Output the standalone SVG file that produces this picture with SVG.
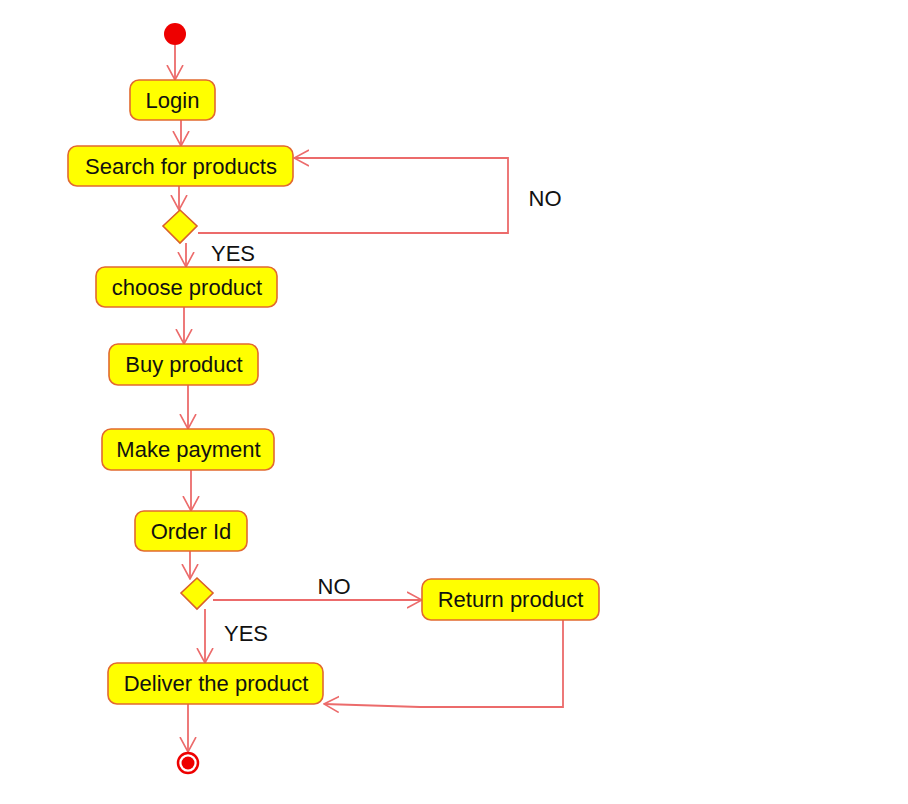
<svg xmlns="http://www.w3.org/2000/svg" width="908" height="804" viewBox="0 0 908 804">
<defs>
<style>
.node rect{fill:#ffff00;stroke:#e2692f;stroke-width:1.6}
.node polygon{fill:#ffff00;stroke:#d9602a;stroke-width:1.6}
text{font-family:"Liberation Sans",Arial,sans-serif;font-size:22px;fill:#111111}
.lbl{text-anchor:middle}
.edge{fill:none;stroke:#ec6b6b;stroke-width:1.8}
</style>
<marker id="arr" viewBox="0 0 16 18" refX="15" refY="9" markerWidth="16" markerHeight="18" markerUnits="userSpaceOnUse" orient="auto">
<path d="M0,1 L15,9 L0,17" fill="none" stroke="#ec6b6b" stroke-width="1.6"/>
</marker>
</defs>
<rect width="908" height="804" fill="#ffffff"/>
<g id="connectors">
<line class="edge" x1="175" y1="45" x2="175" y2="80" marker-end="url(#arr)"/>
<line class="edge" x1="181" y1="120" x2="181" y2="146" marker-end="url(#arr)"/>
<line class="edge" x1="179" y1="186" x2="179" y2="210" marker-end="url(#arr)"/>
<polyline class="edge" points="198,233 508,233 508,158 294,158" marker-end="url(#arr)"/>
<line class="edge" x1="186" y1="243" x2="186" y2="267" marker-end="url(#arr)"/>
<line class="edge" x1="184" y1="307" x2="184" y2="344" marker-end="url(#arr)"/>
<line class="edge" x1="188" y1="385" x2="188" y2="429" marker-end="url(#arr)"/>
<line class="edge" x1="191" y1="470" x2="191" y2="511" marker-end="url(#arr)"/>
<line class="edge" x1="190" y1="551" x2="190" y2="579" marker-end="url(#arr)"/>
<line class="edge" x1="213" y1="600" x2="422" y2="600" marker-end="url(#arr)"/>
<line class="edge" x1="205" y1="609" x2="205" y2="663" marker-end="url(#arr)"/>
<polyline class="edge" points="563,620 563,707 420,707 324,704" marker-end="url(#arr)"/>
<line class="edge" x1="188" y1="704" x2="188" y2="752" marker-end="url(#arr)"/>
<text x="545" y="206" class="lbl">NO</text>
<text x="233" y="261" class="lbl">YES</text>
<text x="334" y="594" class="lbl">NO</text>
<text x="246" y="641" class="lbl">YES</text>
</g>
<g id="start"><circle cx="175" cy="34" r="11" fill="#ee0000"/></g>
<g id="login" class="node"><rect x="130" y="80" width="85" height="40" rx="9"/><text x="172.5" y="108" class="lbl">Login</text></g>
<g id="search" class="node"><rect x="68" y="146" width="225" height="40" rx="9"/><text x="181" y="174" class="lbl">Search for products</text></g>
<g id="decision1" class="node"><polygon points="180,210 197,226 180,243 163,226"/></g>
<g id="choose" class="node"><rect x="96" y="267" width="181" height="40" rx="9"/><text x="187" y="295" class="lbl">choose product</text></g>
<g id="buy" class="node"><rect x="109" y="344" width="149" height="41" rx="9"/><text x="184" y="372" class="lbl">Buy product</text></g>
<g id="payment" class="node"><rect x="102" y="429" width="172" height="41" rx="9"/><text x="188.5" y="457" class="lbl">Make payment</text></g>
<g id="orderid" class="node"><rect x="135" y="511" width="112" height="40" rx="9"/><text x="191" y="539" class="lbl">Order Id</text></g>
<g id="decision2" class="node"><polygon points="197,578 213,593 197,609 181,593"/></g>
<g id="return" class="node"><rect x="422" y="579" width="177" height="41" rx="9"/><text x="510.5" y="607" class="lbl">Return product</text></g>
<g id="deliver" class="node"><rect x="108" y="663" width="215" height="41" rx="9"/><text x="216" y="691" class="lbl">Deliver the product</text></g>
<g id="end"><circle cx="188" cy="763" r="10" fill="#ffffff" stroke="#ee0000" stroke-width="2.5"/><circle cx="188" cy="763" r="6.5" fill="#ee0000"/></g>
</svg>
